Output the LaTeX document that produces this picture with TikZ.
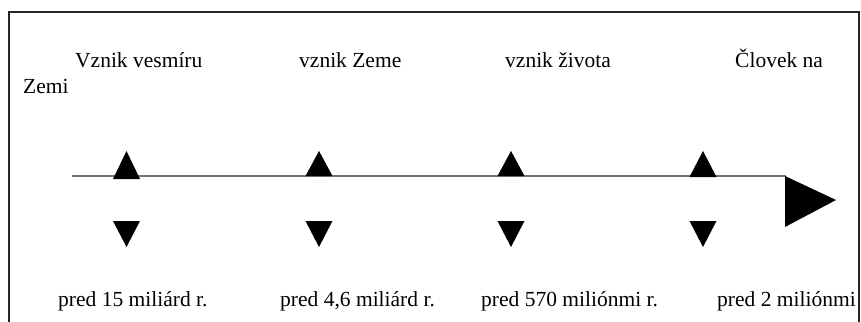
\documentclass[tikz,border=0pt]{standalone}
\usepackage{fontspec}
\setmainfont{Liberation Serif}
\begin{document}
\begin{tikzpicture}[x=1pt,y=-1pt,
  lbl/.style={inner sep=0pt,anchor=base west,font=\fontsize{21.5}{24}\selectfont},
  tri/.style={fill=black,draw=none}]
\useasboundingbox (0,0) rectangle (861,321);
\begin{scope}
\clip (0,0) rectangle (861,321);
% frame
\draw[line width=2pt,draw=black!85] (9,340) -- (9,12) -- (859,12) -- (859,340);
% time axis
\coordinate (a0) at (72,176);
\coordinate (a1) at (786,176);
\draw[line width=1.3pt,draw=black!55] (a0) -- (a1);
% arrow head
\fill (785,176) -- (836,200) -- (785,227) -- cycle;
% markers
\foreach \cx/\b in {126.5/179,319/176,511/176,703/177}{
  \fill[tri] (\cx,151) -- (\cx+13.5,\b) -- (\cx-13.5,\b) -- cycle;
  \fill[tri] (\cx-13.5,221) -- (\cx+13.5,221) -- (\cx,247) -- cycle;
}
% labels
\node[lbl] (t1) at (75,67) {Vznik vesmíru};
\node[lbl] (t2) at (299,67) {vznik Zeme};
\node[lbl] (t3) at (505,67) {vznik života};
\node[lbl] (t4) at (735,67) {Človek na};
\node[lbl] (t5) at (23,93) {Zemi};
\node[lbl] (b1) at (58,306) {pred 15 miliárd r.};
\node[lbl] (b2) at (280,306) {pred 4,6 miliárd r.};
\node[lbl] (b3) at (481,306) {pred 570 miliónmi r.};
\node[lbl] (b4) at (717,306) {pred 2 miliónmi};
\end{scope}
\end{tikzpicture}
\end{document}
